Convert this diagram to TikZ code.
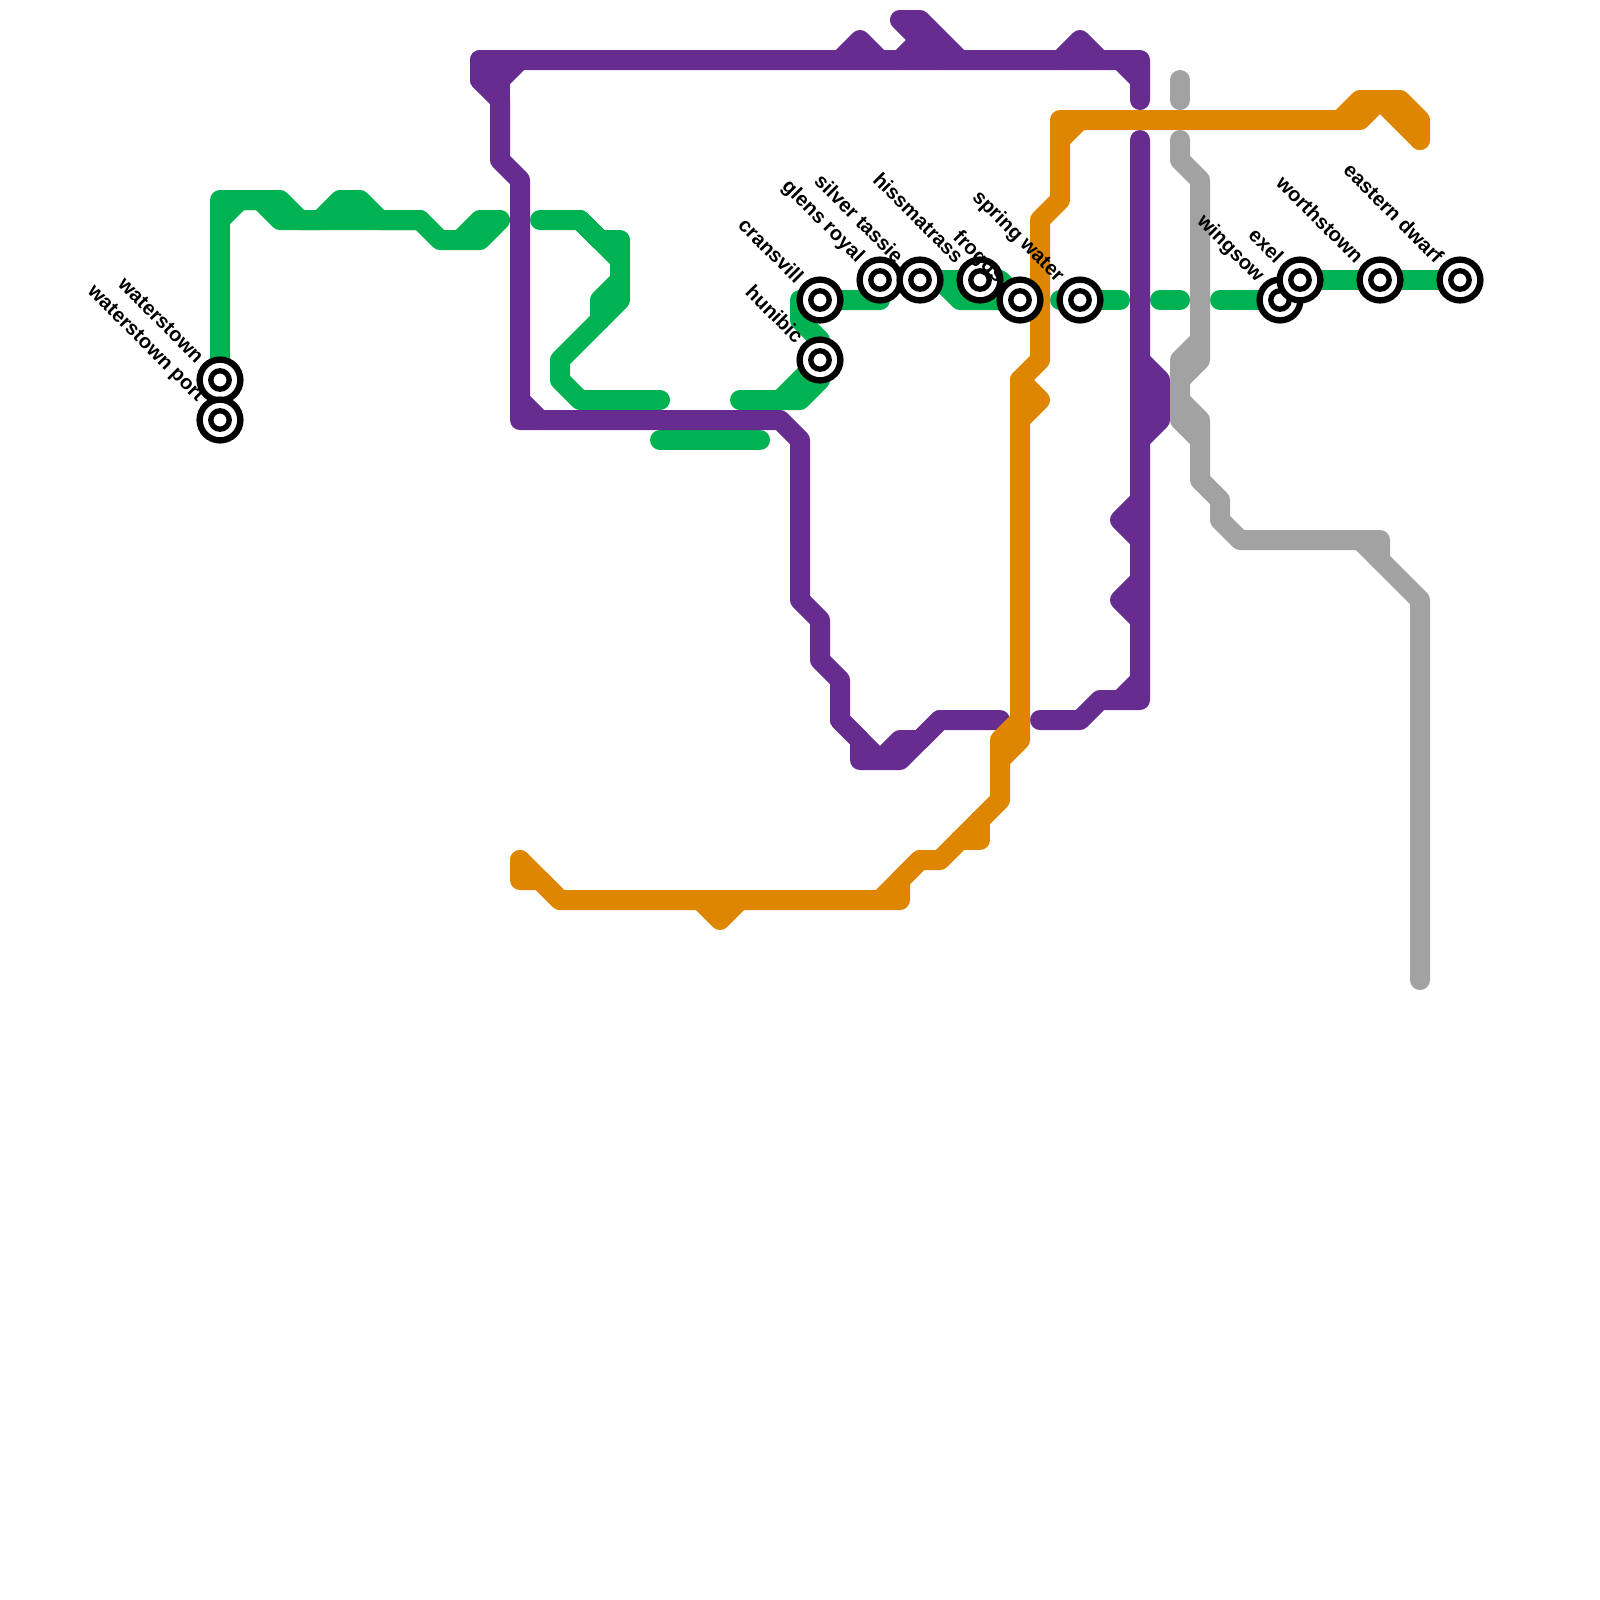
\documentclass[tikz,border=0pt]{standalone}
\usepackage{fontspec}
\setmainfont{Liberation Sans}
\definecolor{greenl}{HTML}{00B251}
\definecolor{purplel}{HTML}{662C90}
\definecolor{orangel}{HTML}{DF8600}
\definecolor{greyl}{HTML}{A2A2A2}
\tikzset{
  metro/.style={line width=0.5cm, line cap=round, line join=round},
  stationring/.style={circle, draw=black, fill=white, line width=4.5pt, minimum size=1.02cm, inner sep=0pt},
  stationeye/.style={circle, draw=black, fill=white, line width=3.8pt, minimum size=0.46cm, inner sep=0pt},
  stationlabel/.style={rotate=-45, anchor=east, inner sep=0pt, font=\bfseries\fontsize{14.35}{16}\selectfont}
}
\begin{document}
\begin{tikzpicture}[x=0.5cm, y=-0.5cm]
  \useasboundingbox (0,0) rectangle (80,80);
  \foreach \name/\x/\y in {waterstown/11/19, port/11/21, hunibic/41/18, cransvill/41/15, glens/44/14, silver/46/14, hissmatrass/49/14, froggs/51/15, spring/54/15, wingsow/64/15, exel/65/14, worthstown/69/14, eastern/73/14} {
    \coordinate (\name) at (\x,\y);
  }
  % green
  \draw[metro, greenl] (waterstown) -- (11,10) -- (14,10) -- (15,11) -- (16,11) -- (17,10) -- (18,10) -- (19,11) -- (21,11) -- (22,12) -- (24,12) -- (25,11) -- (24,11) -- (23,12);
  \draw[metro, greenl] (11,11) -- (12,10) -- (13,10) -- (14,11) -- (21,11);
  \draw[metro, greenl] (27,11) -- (29,11) -- (31,13) -- (31,15) -- (28,18) -- (28,19) -- (29,20) -- (33,20);
  \draw[metro, greenl] (29,11) -- (30,12) -- (31,12) -- (31,13);
  \draw[metro, greenl] (31,14) -- (30,15) -- (30,16);
  \draw[metro, greenl] (33,22) -- (38,22);
  \draw[metro, greenl] (37,20) -- (40,20) -- (41,19) -- (hunibic) -- (41,17) -- (40,16) -- (40,15) -- (cransvill) -- (44,15) -- (glens);
  \draw[metro, greenl] (39,20) -- (hunibic);
  \draw[metro, greenl] (silver) -- (hissmatrass) -- (50,14) -- (froggs) -- (48,15) -- (47,14);
  \draw[metro, greenl] (53,15) -- (spring) -- (56,15);
  \draw[metro, greenl] (58,15) -- (59,15);
  \draw[metro, greenl] (61,15) -- (wingsow);
  \draw[metro, greenl] (exel) -- (worthstown) -- (eastern);
  % purple
  \draw[metro, purplel] (57,5) -- (57,3) -- (24,3) -- (24,4) -- (25,5) -- (25,8) -- (26,9) -- (26,21) -- (39,21) -- (40,22) -- (40,30) -- (41,31) -- (41,33) -- (42,34) -- (42,36) -- (44,38) -- (45,37) -- (46,37) -- (47,36) -- (50,36);
  \draw[metro, purplel] (42,36) -- (43,37) -- (43,38) -- (45,38) -- (47,36);
  \draw[metro, purplel] (24,3) -- (25,4) -- (26,3);
  \draw[metro, purplel] (24,4) -- (25,4) -- (25,5);
  \draw[metro, purplel] (26,20) -- (27,21);
  \draw[metro, purplel] (56,3) -- (57,4);
  \draw[metro, purplel] (42,3) -- (43,2) -- (44,3);
  \draw[metro, purplel] (53,3) -- (54,2) -- (55,3);
  \draw[metro, purplel] (48,3) -- (46,1) -- (45,1) -- (47,3);
  \draw[metro, purplel] (46,2) -- (45,3);
  \draw[metro, purplel] (52,36) -- (54,36) -- (55,35) -- (57,35) -- (57,7);
  \draw[metro, purplel] (57,34) -- (56,35);
  \draw[metro, purplel] (57,18) -- (58,19) -- (58,21) -- (57,22);
  \draw[metro, purplel] (57,25) -- (56,26) -- (57,27);
  \draw[metro, purplel] (57,29) -- (56,30) -- (57,31);
  % grey
  \draw[metro, greyl] (59,4) -- (59,5);
  \draw[metro, greyl] (59,7) -- (59,8) -- (60,9) -- (60,18) -- (59,19);
  \draw[metro, greyl] (60,17) -- (59,18) -- (59,21) -- (60,22) -- (60,24) -- (61,25) -- (61,26) -- (62,27) -- (69,27) -- (69,28) -- (71,30) -- (71,49);
  \draw[metro, greyl] (59,20) -- (60,21) -- (60,22);
  \draw[metro, greyl] (68,27) -- (69,28);
  % orange
  \draw[metro, orangel] (26,43) -- (26,44) -- (27,44) -- (28,45);
  \draw[metro, orangel] (26,43) -- (28,45) -- (45,45) -- (45,44) -- (46,43) -- (47,43) -- (50,40) -- (50,37) -- (51,36);
  \draw[metro, orangel] (35,45) -- (36,46) -- (37,45);
  \draw[metro, orangel] (44,45) -- (46,43);
  \draw[metro, orangel] (49,41) -- (49,42) -- (48,42);
  \draw[metro, orangel] (50,38) -- (51,37) -- (51,19) -- (52,18) -- (52,11) -- (53,10) -- (53,6) -- (68,6) -- (69,5) -- (71,7);
  \draw[metro, orangel] (51,21) -- (52,20) -- (51,19);
  \draw[metro, orangel] (53,7) -- (54,6);
  \draw[metro, orangel] (67,6) -- (68,5) -- (70,5) -- (71,6) -- (71,7);
  % stations
  \foreach \name in {waterstown, port, hunibic, cransvill, glens, silver, hissmatrass, froggs, spring, wingsow, exel, worthstown, eastern} {
    \node[stationring] (\name ring) at (\name) {};
    \node[stationeye] (\name eye) at (\name) {};
  }
  \foreach \name/\txt in {waterstown/waterstown, port/waterstown port, hunibic/hunibic, cransvill/cransvill, glens/glens royal, silver/silver tassie, hissmatrass/hissmatrass, froggs/froggs, spring/spring water, wingsow/wingsow, exel/exel, worthstown/worthstown, eastern/eastern dwarf} {
    \node[stationlabel] (\name label) at ([shift={(-0.98,-1.02)}]\name) {\txt};
  }
\end{tikzpicture}
\end{document}
